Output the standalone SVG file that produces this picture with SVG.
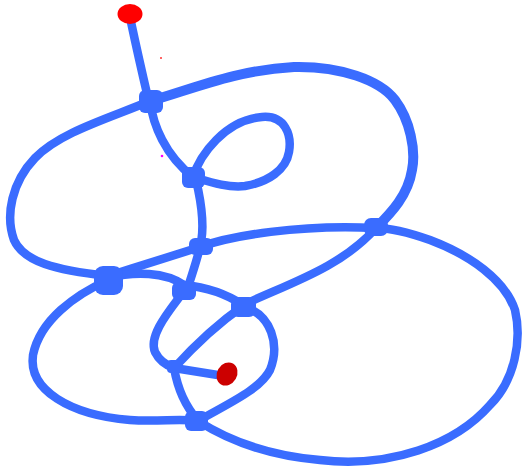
<svg xmlns="http://www.w3.org/2000/svg" width="523" height="470" viewBox="0 0 523 470">
<style>
.c{fill:none;stroke:#3a6cff;stroke-width:8.5;stroke-linecap:round;stroke-linejoin:round}
.n{fill:#3a6cff}
</style>
<rect width="523" height="470" fill="#fff"/>
<g id="connectors">
<path class="c" d="M131,22 Q138,55 148,98"/>
<path class="c" style="stroke-width:10" d="M150,101 C190,90 235,70 294,67 C340,66 380,80 395,100 C410,120 416,150 412,170 C408,195 392,212 376,228"/>
<path class="c" d="M150,101 C110,118 60,132 35,158 C12,182 5,215 14,240 C24,262 55,270 108,276"/>
<path class="c" d="M150,101 C153,125 165,155 193,177"/>
<path class="c" d="M193,177 C200,155 225,120 262,117 C285,115 292,135 289,152 C286,170 268,182 245,186 C228,188 210,182 193,177"/>
<path class="c" d="M196,180 C202,205 205,228 200,247"/>
<path class="c" d="M200,247 C230,236 300,224 376,228"/>
<path class="c" d="M108,276 C140,266 175,255 200,247"/>
<path class="c" d="M108,278 C135,271 165,272 184,285"/>
<path class="c" d="M184,285 C205,287 225,293 243,305"/>
<path class="c" d="M200,247 C197,260 193,272 187,290"/>
<path class="c" d="M243,305 C290,283 340,268 376,228"/>
<path class="c" d="M243,306 C220,322 195,345 174,368"/>
<path class="c" d="M184,291 C170,310 148,335 155,352 C160,362 168,366 174,368"/>
<path class="c" d="M174,368 L224,376"/>
<path class="c" d="M174,368 C178,390 185,405 198,421"/>
<path class="c" d="M198,421 C220,435 260,455 320,460 C390,468 455,445 490,405 C515,380 522,340 515,310 C505,280 470,255 430,240 C410,233 390,228 376,228"/>
<path class="c" d="M108,280 C75,295 40,320 33,355 C28,390 70,415 130,420 C160,422 180,418 198,421"/>
<path class="c" d="M198,421 C225,405 260,390 270,370 C280,345 272,315 243,306"/>
</g>
<g id="node-A"><rect class="n" x="139" y="90" width="24" height="23" rx="6"/></g>
<g id="node-B"><rect class="n" x="182" y="167" width="23" height="21" rx="6"/></g>
<g id="node-C"><rect class="n" x="189" y="238" width="24" height="17" rx="6"/></g>
<g id="node-D"><rect class="n" x="172" y="282" width="24" height="18" rx="6"/></g>
<g id="node-E"><rect class="n" x="167" y="360" width="15" height="13" rx="4"/></g>
<g id="node-F"><rect class="n" x="94" y="266" width="29" height="29" rx="9"/></g>
<g id="node-G"><rect class="n" x="231" y="297" width="25" height="20" rx="7"/></g>
<g id="node-H"><rect class="n" x="185" y="411" width="23" height="20" rx="6"/></g>
<g id="node-I"><rect class="n" x="364" y="218" width="24" height="18" rx="7"/></g>
<g id="start"><ellipse cx="130" cy="14" rx="12.5" ry="10" fill="#ff0000"/></g>
<g id="end"><ellipse cx="227" cy="374" rx="10" ry="12" transform="rotate(30 227 374)" fill="#cc0000"/></g>
<circle cx="161" cy="58" r="1" fill="#ff3333"/>
<circle cx="162" cy="156" r="1.3" fill="#ff00ff"/>
</svg>
